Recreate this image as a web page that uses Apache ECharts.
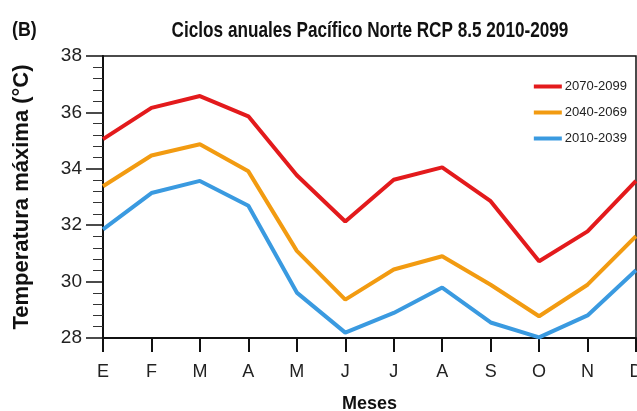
<!DOCTYPE html>
<html>
<head>
<meta charset="utf-8">
<script src="https://cdn.jsdelivr.net/npm/echarts@6/dist/echarts.min.js"></script>
<style>
	html, body { margin: 0; padding: 0; background: #fff; }
	#chart { width: 637px; height: 411px; }
</style>
</head>
<body>
<div id="chart"></div>
<script>
var meses = ["E", "F", "M", "A", "M", "J", "J", "A", "S", "O", "N", "D"];
var p2070 = [35.05, 36.16, 36.58, 35.86, 33.77, 32.13, 33.61, 34.05, 32.85, 30.72, 31.78, 33.57];
var p2040 = [33.38, 34.47, 34.87, 33.91, 31.09, 29.36, 30.43, 30.90, 29.89, 28.77, 29.89, 31.61];
var p2010 = [31.85, 33.14, 33.57, 32.69, 29.61, 28.19, 28.89, 29.79, 28.55, 28.02, 28.80, 30.40];
var periodos = ["2070-2099", "2040-2069", "2010-2039"];
var colores = ["#e31a1c", "#f29b11", "#3a9ae0"];

var sans = "'Liberation Sans', Arial, sans-serif";

function serie(name, data, color) {
	return {
		name: name,
		type: "line",
		data: data,
		symbol: "none",
		color: color,
		lineStyle: { width: 4, color: color },
		z: 3
	};
}

var chart = echarts.init(document.getElementById("chart"), null, { renderer: "canvas" });
chart.setOption({
	animation: false,
	backgroundColor: "#fff",
	// titulo angosto como en la figura original
	graphic: [{
		type: "text",
		x: 370,
		y: 31,
		scaleX: 0.78,
		style: {
			text: "Ciclos anuales Pacífico Norte RCP 8.5 2010-2099",
			font: "bold 22px " + sans,
			fill: "#111",
			align: "center",
			verticalAlign: "middle"
		}
	}, {
		type: "text",
		x: 12,
		y: 30,
		scaleX: 0.85,
		style: {
			text: "(B)",
			font: "bold 21px " + sans,
			fill: "#111",
			align: "left",
			verticalAlign: "middle"
		}
	}],
	legend: {
		orient: "vertical",
		right: 5,
		top: 75,
		itemWidth: 28,
		itemHeight: 14,
		itemGap: 13,
		icon: "path://M0,0 L28,0 L28,4 L0,4 Z",
		data: periodos,
		textStyle: { fontFamily: sans, fontSize: 13, color: "#222", padding: [0, 0, 0, -2] }
	},
	grid: {
		left: 103,
		right: 1,
		top: 56,
		bottom: 73,
		outerBoundsMode: "none",
		containLabel: false,
		show: true,
		borderColor: "#111",
		borderWidth: 1.5,
		backgroundColor: "transparent"
	},
	xAxis: {
		type: "category",
		data: meses,
		boundaryGap: false,
		name: "Meses",
		nameLocation: "middle",
		nameGap: 57,
		nameTextStyle: { fontFamily: sans, fontWeight: "bold", fontSize: 18, color: "#111", verticalAlign: "top" },
		axisLine: { lineStyle: { color: "#111", width: 2 } },
		axisTick: { alignWithLabel: true, length: 14, lineStyle: { color: "#111", width: 2 } },
		axisLabel: { fontFamily: sans, fontSize: 18, color: "#222", margin: 25 },
		splitLine: { show: false }
	},
	yAxis: {
		type: "value",
		min: 28,
		max: 38,
		interval: 2,
		name: "Temperatura máxima (°C)",
		nameLocation: "middle",
		nameGap: 70,
		nameRotate: 90,
		nameTextStyle: { fontFamily: sans, fontWeight: "bold", fontSize: 22, color: "#111" },
		axisLine: { show: true, lineStyle: { color: "#111", width: 2 } },
		axisTick: { show: true, length: 17, lineStyle: { color: "#111", width: 1.5 } },
		minorTick: { show: true, splitNumber: 5, length: 10, lineStyle: { color: "#333", width: 1 } },
		axisLabel: { fontFamily: sans, fontSize: 19, color: "#222", margin: 21 },
		splitLine: { show: false }
	},
	series: [
		serie(periodos[0], p2070, colores[0]),
		serie(periodos[1], p2040, colores[1]),
		serie(periodos[2], p2010, colores[2])
	]
});
</script>
</body>
</html>
